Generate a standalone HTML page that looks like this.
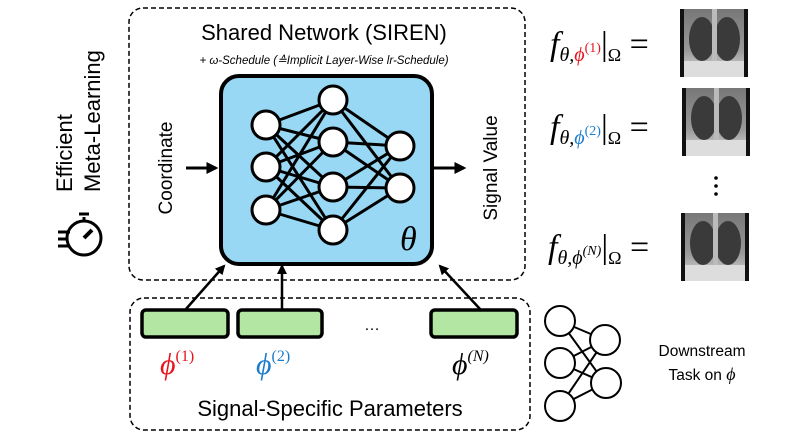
<!DOCTYPE html>
<html><head><meta charset="utf-8"><style>body{margin:0;background:#fff}svg{display:block}</style></head><body>
<svg width="796" height="439" viewBox="0 0 796 439" xmlns="http://www.w3.org/2000/svg" font-family="Liberation Sans, sans-serif">
<defs>
<marker id="a" viewBox="0 0 10 10" refX="8" refY="5" markerWidth="4" markerHeight="4" orient="auto"><path d="M0,0L10,5L0,10z" fill="#000"/></marker>
<linearGradient id="x" x1="0" y1="0" x2="0" y2="1"><stop offset="0" stop-color="#777"/><stop offset="0.6" stop-color="#999"/><stop offset="1" stop-color="#ddd"/></linearGradient>
<g id="xr">
<rect width="68" height="68" fill="url(#x)"/>
<ellipse cx="22" cy="30" rx="13" ry="22" fill="#3a3a3a"/>
<ellipse cx="47" cy="30" rx="13" ry="22" fill="#3a3a3a"/>
<rect x="32" y="0" width="5" height="60" fill="#bbb"/>
<rect x="0" y="52" width="68" height="16" fill="#ddd"/>
<rect x="0" y="0" width="4" height="68" fill="#111"/><rect x="64" y="0" width="4" height="68" fill="#111"/>
</g>
</defs>
<rect x="129" y="8" width="396" height="272" rx="14" fill="none" stroke="#000" stroke-width="1.5" stroke-dasharray="5,3"/>
<rect x="130" y="298" width="400" height="132" rx="14" fill="none" stroke="#000" stroke-width="1.5" stroke-dasharray="5,3"/>
<text x="324" y="40" font-size="22" text-anchor="middle">Shared Network (SIREN)</text>
<text x="324" y="64" font-size="11.5" font-style="italic" text-anchor="middle">+ ω-Schedule (≙Implicit Layer-Wise lr-Schedule)</text>
<rect x="221" y="76" width="211" height="188" rx="18" fill="#98d8f4" stroke="#000" stroke-width="4"/>
<g stroke="#000" stroke-width="3">
<path d="M266 125L333 100M266 125L333 142M266 125L333 187M266 125L333 230M266 167L333 100M266 167L333 142M266 167L333 187M266 167L333 230M266 210L333 100M266 210L333 142M266 210L333 187M266 210L333 230M333 100L400 146M333 100L400 188M333 142L400 146M333 142L400 188M333 187L400 146M333 187L400 188M333 230L400 146M333 230L400 188"/>
</g>
<g fill="#fff" stroke="#000" stroke-width="3">
<circle cx="266" cy="125" r="14"/><circle cx="266" cy="167" r="14"/><circle cx="266" cy="210" r="14"/>
<circle cx="333" cy="100" r="14"/><circle cx="333" cy="142" r="14"/><circle cx="333" cy="187" r="14"/><circle cx="333" cy="230" r="14"/>
<circle cx="400" cy="146" r="14"/><circle cx="400" cy="188" r="14"/>
</g>
<text x="400" y="250" font-size="34" font-style="italic" font-family="Liberation Serif, serif">θ</text>
<text transform="translate(172,168) rotate(-90)" font-size="19" text-anchor="middle">Coordinate</text>
<text transform="translate(497,168) rotate(-90)" font-size="19" text-anchor="middle">Signal Value</text>
<line x1="186" y1="168" x2="216" y2="168" stroke="#000" stroke-width="3" marker-end="url(#a)"/>
<line x1="434" y1="168" x2="464" y2="168" stroke="#000" stroke-width="3" marker-end="url(#a)"/>
<text transform="translate(72,192) rotate(-90)" font-size="22">Efficient</text>
<text transform="translate(100,192) rotate(-90)" font-size="22">Meta-Learning</text>
<g stroke="#000" stroke-width="3" fill="none">
<circle cx="84" cy="238" r="17"/><line x1="84" y1="217" x2="84" y2="221"/><line x1="79" y1="214" x2="89" y2="214"/>
<line x1="58" y1="232" x2="70" y2="232"/><line x1="58" y1="239" x2="68" y2="239"/><line x1="58" y1="246" x2="70" y2="246"/>
<path d="M84 238L92 230" stroke-width="4"/>
</g>
<g fill="#b3e6a3" stroke="#000" stroke-width="3.5">
<rect x="142" y="310" width="86" height="27" rx="4"/><rect x="238" y="310" width="84" height="27" rx="4"/><rect x="431" y="310" width="86" height="27" rx="4"/>
</g>
<text x="372" y="330" font-size="16" text-anchor="middle">…</text>
<g stroke="#000" stroke-width="2.5">
<line x1="186" y1="309" x2="224" y2="266" marker-end="url(#a)"/>
<line x1="282" y1="309" x2="282" y2="266" marker-end="url(#a)"/>
<line x1="480" y1="309" x2="440" y2="266" marker-end="url(#a)"/>
</g>
<g font-family="Liberation Serif, serif" font-style="italic" font-size="30">
<text x="160" y="374" fill="#e8141c">ϕ<tspan font-size="16" font-style="normal" dy="-13">(1)</tspan></text>
<text x="256" y="374" fill="#1a7ccc">ϕ<tspan font-size="16" font-style="normal" dy="-13">(2)</tspan></text>
<text x="452" y="374" fill="#000">ϕ<tspan font-size="16" dy="-13">(N)</tspan></text>
</g>
<text x="330" y="416" font-size="22" text-anchor="middle">Signal-Specific Parameters</text>
<g font-family="Liberation Serif, serif" font-size="34" font-style="italic">
<text x="550" y="55">f<tspan font-size="20" dy="6">θ,</tspan><tspan font-size="20" fill="#e8141c">ϕ</tspan><tspan font-size="14" font-style="normal" fill="#e8141c" dy="-9">(1)</tspan><tspan font-style="normal" dy="3">|</tspan><tspan font-size="18" font-style="normal" dy="6">Ω</tspan><tspan font-style="normal" dy="-6"> =</tspan></text>
<text x="550" y="138">f<tspan font-size="20" dy="6">θ,</tspan><tspan font-size="20" fill="#1a7ccc">ϕ</tspan><tspan font-size="14" font-style="normal" fill="#1a7ccc" dy="-9">(2)</tspan><tspan font-style="normal" dy="3">|</tspan><tspan font-size="18" font-style="normal" dy="6">Ω</tspan><tspan font-style="normal" dy="-6"> =</tspan></text>
<text x="548" y="258">f<tspan font-size="20" dy="6">θ,ϕ</tspan><tspan font-size="14" dy="-9">(N)</tspan><tspan font-style="normal" dy="3">|</tspan><tspan font-size="18" font-style="normal" dy="6">Ω</tspan><tspan font-style="normal" dy="-6"> =</tspan></text>
</g>
<use href="#xr" x="680" y="9"/>
<use href="#xr" x="682" y="88"/>
<use href="#xr" x="681" y="213"/>
<g fill="#000"><circle cx="716" cy="178" r="1.8"/><circle cx="716" cy="186" r="1.8"/><circle cx="716" cy="194" r="1.8"/></g>
<g stroke="#000" stroke-width="2" fill="#fff">
<path d="M560 321L605 340M560 321L605 383M560 363L605 340M560 363L605 383M560 406L605 340M560 406L605 383" fill="none"/>
<circle cx="560" cy="321" r="15"/><circle cx="560" cy="363" r="15"/><circle cx="560" cy="406" r="15"/>
<circle cx="605" cy="340" r="15"/><circle cx="606" cy="383" r="15"/>
</g>
<text x="702" y="356" font-size="15.5" text-anchor="middle">Downstream</text>
<text x="702" y="380" font-size="15.5" text-anchor="middle">Task on <tspan font-family="Liberation Serif, serif" font-style="italic" font-size="18">ϕ</tspan></text>
</svg>
</body></html>
